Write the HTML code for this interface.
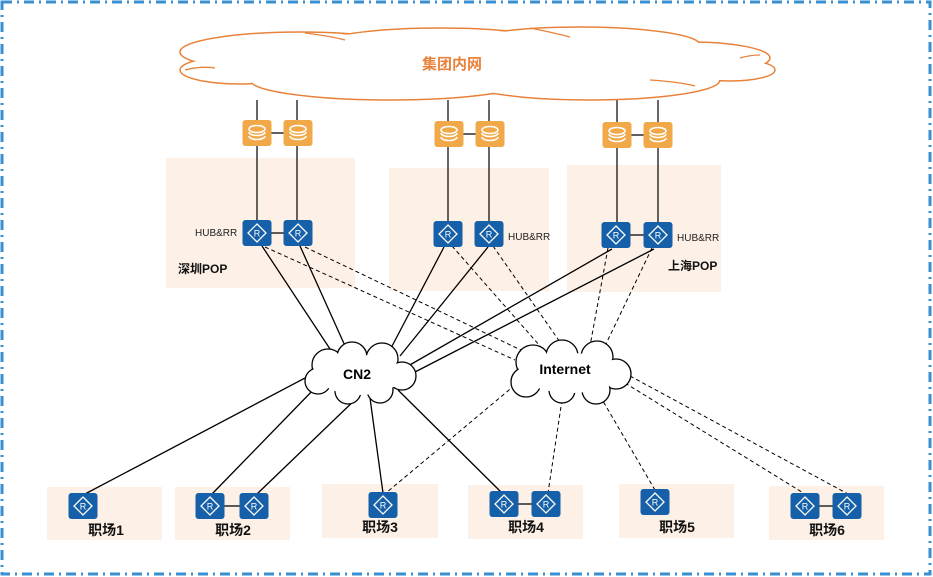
<!DOCTYPE html>
<html><head><meta charset="utf-8"><style>
html,body{margin:0;padding:0;background:#fff}
svg{display:block}
text{font-family:"Liberation Sans","Noto Sans CJK SC",sans-serif}
</style></head><body>
<svg width="933" height="577" viewBox="0 0 933 577" xmlns="http://www.w3.org/2000/svg">
<rect x="2" y="2" width="928" height="572" fill="none" stroke="#3a8fd0" stroke-width="3" stroke-dasharray="10,5,2,5"/>
<rect x="166" y="158" width="189" height="130" fill="#fdf0e6"/>
<rect x="389" y="168" width="160" height="123" fill="#fdf0e6"/>
<rect x="567" y="165" width="154" height="127" fill="#fdf0e6"/>
<g fill="#fdf0e6">
<rect x="47" y="487" width="115" height="53"/>
<rect x="175" y="487" width="115" height="53"/>
<rect x="322" y="484" width="116" height="54"/>
<rect x="468" y="485" width="115" height="54"/>
<rect x="619" y="484" width="115" height="54"/>
<rect x="769" y="486" width="115" height="54"/>
</g>
<g stroke="#000" stroke-width="1.2">
<line x1="257" y1="100" x2="257" y2="233"/><line x1="297" y1="100" x2="297" y2="233"/>
<line x1="448" y1="100" x2="448" y2="234"/><line x1="489" y1="100" x2="489" y2="234"/>
<line x1="617" y1="100" x2="617" y2="235"/><line x1="658" y1="100" x2="658" y2="235"/>
<line x1="257" y1="133" x2="297" y2="133"/><line x1="449" y1="134" x2="489" y2="134"/><line x1="617" y1="135" x2="657" y2="135"/>
<line x1="257" y1="233" x2="297" y2="233"/><line x1="616" y1="235" x2="658" y2="235"/>
<line x1="210" y1="506" x2="254" y2="506"/><line x1="504" y1="504" x2="546" y2="504"/><line x1="805" y1="506" x2="847" y2="506"/>
</g>
<g stroke="#000" stroke-width="1.3">
<line x1="262" y1="246" x2="332" y2="352"/><line x1="300" y1="246" x2="346" y2="348"/>
<line x1="444" y1="247" x2="390" y2="350"/><line x1="488" y1="247" x2="400" y2="356"/>
<line x1="612" y1="249" x2="408" y2="366"/><line x1="654" y1="249" x2="415" y2="372"/>
<line x1="305" y1="378" x2="85" y2="494"/><line x1="318" y1="385" x2="212" y2="494"/>
<line x1="360" y1="395" x2="257" y2="494"/><line x1="370" y1="398" x2="383" y2="493"/>
<line x1="398" y1="390" x2="502" y2="493"/>
</g>
<g stroke="#000" stroke-width="1" stroke-dasharray="4,3">
<line x1="265" y1="247" x2="515" y2="360"/><line x1="305" y1="247" x2="525" y2="352"/>
<line x1="452" y1="246" x2="540" y2="346"/><line x1="493" y1="246" x2="560" y2="342"/>
<line x1="608" y1="248" x2="590" y2="346"/><line x1="652" y1="248" x2="605" y2="346"/>
<line x1="515" y1="385" x2="386" y2="493"/><line x1="562" y1="400" x2="548" y2="493"/>
<line x1="600" y1="396" x2="655" y2="490"/><line x1="625" y1="383" x2="805" y2="494"/>
<line x1="630" y1="376" x2="848" y2="494"/>
</g>
<g stroke="#e8823a" stroke-width="1.5" fill="#fff">
<ellipse cx="300" cy="52" rx="120" ry="20"/><ellipse cx="440" cy="45" rx="120" ry="17"/>
<ellipse cx="580" cy="45" rx="120" ry="18"/><ellipse cx="690" cy="58" rx="80" ry="16"/>
<ellipse cx="240" cy="70" rx="60" ry="14"/><ellipse cx="390" cy="80" rx="140" ry="20"/>
<ellipse cx="590" cy="80" rx="130" ry="20"/><ellipse cx="730" cy="70" rx="45" ry="11"/>
</g>
<g fill="#fff">
<ellipse cx="300" cy="52" rx="119" ry="19"/><ellipse cx="440" cy="45" rx="119" ry="16"/>
<ellipse cx="580" cy="45" rx="119" ry="17"/><ellipse cx="690" cy="58" rx="79" ry="15"/>
<ellipse cx="240" cy="70" rx="59" ry="13"/><ellipse cx="390" cy="80" rx="139" ry="19"/>
<ellipse cx="590" cy="80" rx="129" ry="19"/><ellipse cx="730" cy="70" rx="44" ry="10"/>
<ellipse cx="470" cy="63" rx="240" ry="22"/>
</g>
<g stroke="#e8823a" stroke-width="1.3" fill="none">
<path d="M185 70 Q200 66 215 68"/><path d="M305 33 Q330 36 345 40"/><path d="M530 28 Q555 33 570 37"/>
<path d="M650 80 Q680 82 695 86"/><path d="M740 58 Q750 55 760 55"/>
</g>
<text x="452" y="69" font-size="15" font-weight="bold" fill="#e8823a" text-anchor="middle">集团内网</text>
<g stroke="#000" stroke-width="1.3" fill="#fff">
<circle cx="328" cy="365" r="16"/><circle cx="352" cy="357" r="15"/><circle cx="382" cy="359" r="16"/>
<circle cx="402" cy="376" r="14"/><circle cx="380" cy="390" r="13"/><circle cx="348" cy="391" r="13"/>
<circle cx="318" cy="381" r="13"/>
</g>
<g fill="#fff">
<circle cx="328" cy="365" r="15"/><circle cx="352" cy="357" r="14"/><circle cx="382" cy="359" r="15"/>
<circle cx="402" cy="376" r="13"/><circle cx="380" cy="390" r="12"/><circle cx="348" cy="391" r="12"/>
<circle cx="318" cy="381" r="12"/><ellipse cx="360" cy="375" rx="42" ry="20"/>
</g>
<text x="357" y="379" font-size="14" font-weight="bold" text-anchor="middle">CN2</text>
<g stroke="#000" stroke-width="1.3" fill="#fff">
<circle cx="533" cy="362" r="17"/><circle cx="562" cy="356" r="16"/><circle cx="597" cy="357" r="16"/>
<circle cx="616" cy="374" r="15"/><circle cx="596" cy="390" r="14"/><circle cx="562" cy="390" r="13"/>
<circle cx="526" cy="382" r="15"/>
</g>
<g fill="#fff">
<circle cx="533" cy="362" r="16"/><circle cx="562" cy="356" r="15"/><circle cx="597" cy="357" r="15"/>
<circle cx="616" cy="374" r="14"/><circle cx="596" cy="390" r="13"/><circle cx="562" cy="390" r="12"/>
<circle cx="526" cy="382" r="14"/><ellipse cx="570" cy="373" rx="48" ry="20"/>
</g>
<text x="565" y="374" font-size="14" font-weight="bold" text-anchor="middle">Internet</text>
<defs>
<g id="fw"><rect x="-14.5" y="-13" width="29" height="26" rx="3" fill="#f0a848"/>
<ellipse cx="0" cy="-4" rx="8" ry="3.5" fill="none" stroke="#fff" stroke-width="1.6"/>
<path d="M-8 -1 A8 3.5 0 0 0 8 -1 M-8 3 A8 3.5 0 0 0 8 3" fill="none" stroke="#fff" stroke-width="1.6"/></g>
<g id="rt"><rect x="-14.5" y="-13" width="29" height="26" rx="3" fill="#1560a8"/>
<path d="M0 -9 L9 0 L0 9 L-9 0 Z" fill="none" stroke="#fff" stroke-width="1.3"/>
<text x="0" y="3.5" font-size="9" fill="#fff" text-anchor="middle">R</text></g>
</defs>
<use href="#fw" x="257" y="133"/><use href="#fw" x="298" y="133"/>
<use href="#fw" x="449" y="134"/><use href="#fw" x="490" y="134"/>
<use href="#fw" x="617" y="135"/><use href="#fw" x="658" y="135"/>
<use href="#rt" x="257" y="233"/><use href="#rt" x="298" y="233"/>
<use href="#rt" x="448" y="234"/><use href="#rt" x="489" y="234"/>
<use href="#rt" x="616" y="235"/><use href="#rt" x="658" y="235"/>
<use href="#rt" x="83" y="506"/>
<use href="#rt" x="210" y="506"/><use href="#rt" x="254" y="506"/>
<use href="#rt" x="383" y="505"/>
<use href="#rt" x="504" y="504"/><use href="#rt" x="546" y="504"/>
<use href="#rt" x="655" y="502"/>
<use href="#rt" x="805" y="506"/><use href="#rt" x="847" y="506"/>
<g font-size="10" fill="#222">
<text x="195" y="236">HUB&amp;RR</text><text x="508" y="240">HUB&amp;RR</text><text x="677" y="241">HUB&amp;RR</text>
</g>
<g font-size="12" font-weight="bold" fill="#111">
<text x="178" y="273">深圳POP</text><text x="668" y="270">上海POP</text>
</g>
<g font-size="14" font-weight="bold" fill="#111" text-anchor="middle">
<text x="106" y="535">职场1</text><text x="233" y="535">职场2</text><text x="380" y="532">职场3</text>
<text x="526" y="532">职场4</text><text x="677" y="532">职场5</text><text x="827" y="535">职场6</text>
</g>
</svg>
</body></html>
